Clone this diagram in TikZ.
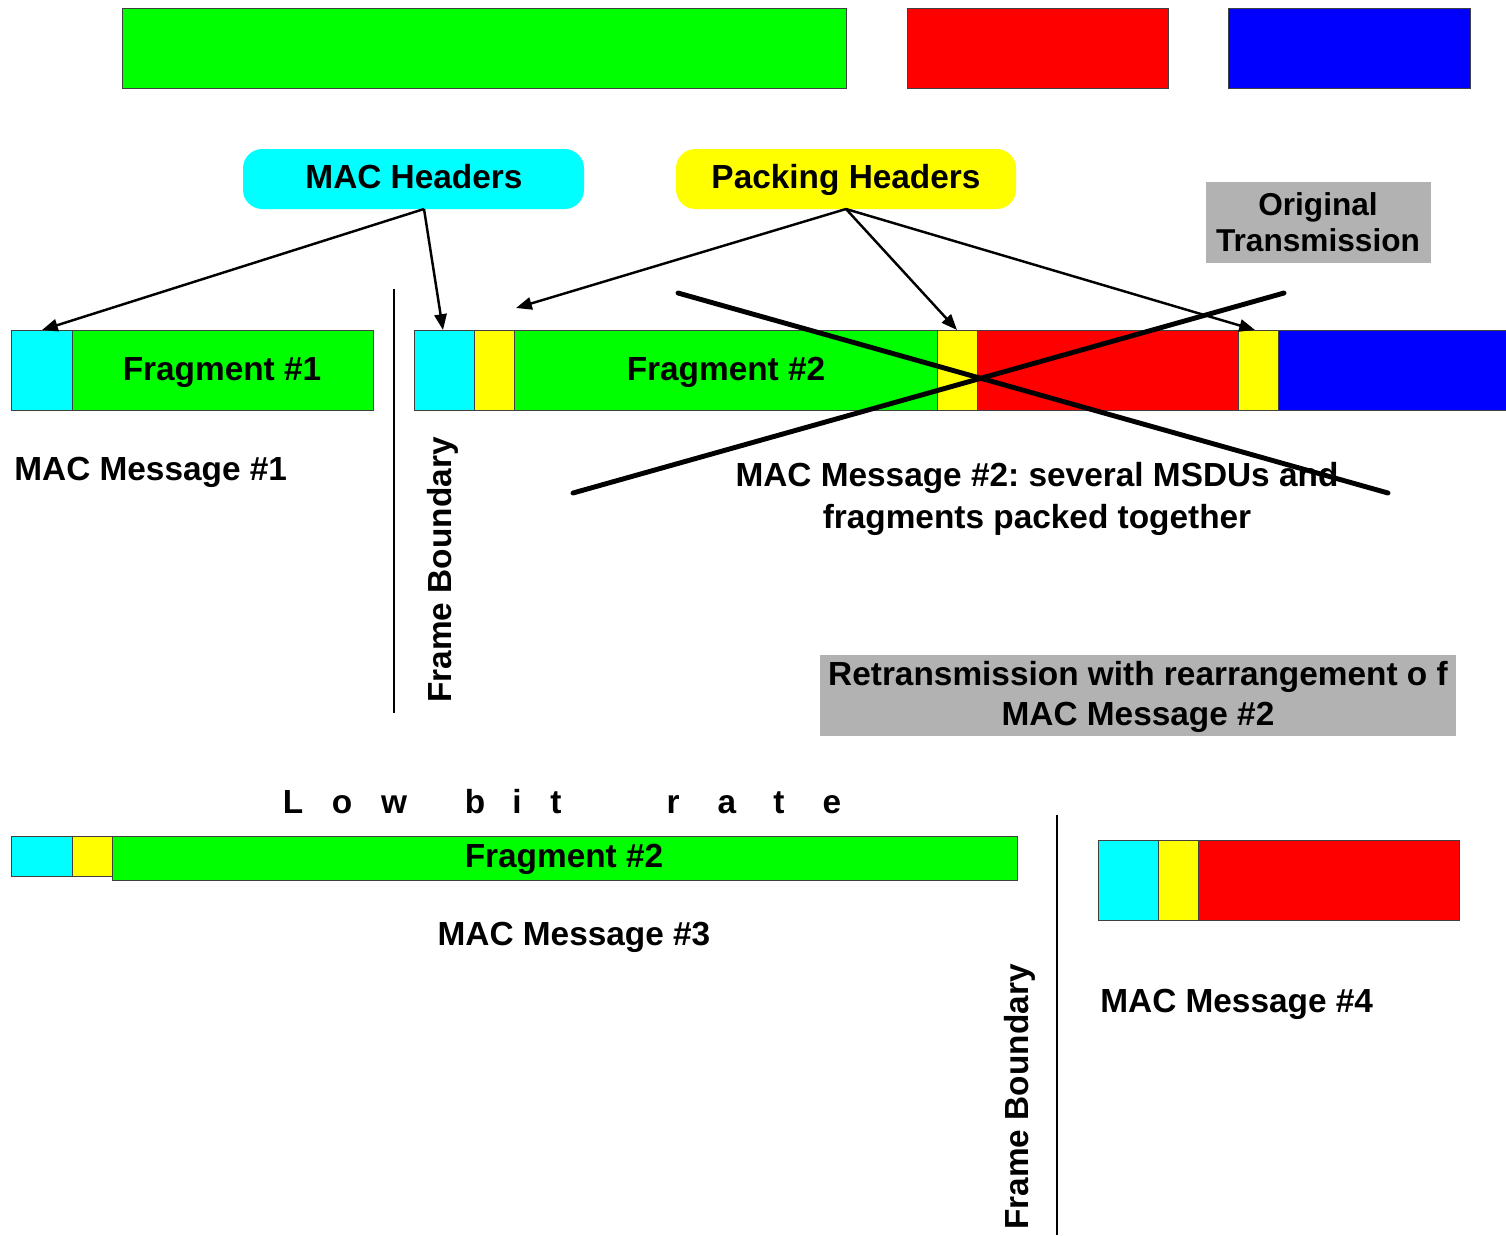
\documentclass[tikz,border=0pt]{standalone}
\usepackage{fontspec}
\setmainfont{Liberation Sans}
\usetikzlibrary{arrows.meta,fit}
\frenchspacing
\definecolor{cgreen}{HTML}{00FF00}
\definecolor{cred}{HTML}{FF0000}
\definecolor{cblue}{HTML}{0000FF}
\definecolor{ccyan}{HTML}{00FFFF}
\definecolor{cyellow}{HTML}{FFFF00}
\definecolor{cgray}{HTML}{B2B2B2}
\tikzset{
  cell/.style={draw=black!75, line width=0.5pt, inner sep=0pt},
  mtxt/.style={font=\fontsize{19}{23.5}\selectfont\bfseries\frenchspacing, inner sep=0pt, align=center},
  txt/.style={mtxt, text height=13.6pt, text depth=0pt},
  hdr/.style={rounded corners=11pt, inner sep=0pt},
  ptr/.style={line width=1.4pt, -{Triangle[length=9pt,width=7pt]}},
  cross/.style={line width=2.8pt, line cap=round},
  fb/.style={line width=1.4pt}
}
\begin{document}
\begin{tikzpicture}[x=0.02cm,y=-0.02cm]
\useasboundingbox (0,0) rectangle (1506,1235);
% top bars
\node (tg) [cell, fill=cgreen, fit={(122,8) (846,88)}] {};
\node (tr) [cell, fill=cred, fit={(907,8) (1168,88)}] {};
\node (tb) [cell, fill=cblue, fit={(1228,8) (1470,88)}] {};
% header boxes
\node (mh) [hdr, fill=ccyan, fit={(243,149) (584,209)}] {};
\node (mht) [txt] at (414,177) {MAC Headers};
\node (ph) [hdr, fill=cyellow, fit={(676,149) (1016,209)}] {};
\node (pht) [txt] at (846,177) {Packing Headers};
\node (ot) [fill=cgray, inner sep=0pt, fit={(1206,182) (1431,263)}] {};
\node (ott) [mtxt, font=\fontsize{18}{20.5}\selectfont\bfseries] at (1318,222) {Original\\Transmission};
% message 1
\node (m1c) [cell, fill=ccyan, fit={(11,330) (72,410)}] {};
\node (m1g) [cell, fill=cgreen, fit={(72,330) (373,410)}] {};
\node (m1gt) [txt] at (222,369) {Fragment \#1};
\node (m1l) [txt, anchor=west] at (14,469) {MAC Message \#1};
% message 2
\node (m2c) [cell, fill=ccyan, fit={(414,330) (474,410)}] {};
\node (m2y1) [cell, fill=cyellow, fit={(474,330) (514,410)}] {};
\node (m2g) [cell, fill=cgreen, fit={(514,330) (937,410)}] {};
\node (m2gt) [txt] at (726,369) {Fragment \#2};
\node (m2y2) [cell, fill=cyellow, fit={(937,330) (977,410)}] {};
\node (m2r) [cell, fill=cred, fit={(977,330) (1238,410)}] {};
\node (m2y3) [cell, fill=cyellow, fit={(1238,330) (1278,410)}] {};
\node (m2b) [cell, fill=cblue, fit={(1278,330) (1506,410)}] {};
\node (m2l) [mtxt] at (1037,499) {MAC Message \#2: several MSDUs and\\fragments packed together};
% frame boundary 1
\coordinate (fb1a) at (394,289);
\coordinate (fb1b) at (394,713);
\draw[fb] (fb1a) -- (fb1b);
\node (fb1t) [txt, rotate=90] at (440,570) {Frame Boundary};
% arrows
\coordinate (mhs) at (424,209);
\coordinate (phs) at (846,209);
\coordinate (t1) at (42,330);
\coordinate (t2) at (443,330);
\coordinate (t3) at (516,308);
\coordinate (t4) at (957,330);
\coordinate (t5) at (1255,330);
\draw[ptr] (mhs) -- (t1);
\draw[ptr] (mhs) -- (t2);
\draw[ptr] (phs) -- (t3);
\draw[ptr] (phs) -- (t4);
\draw[ptr] (phs) -- (t5);
% cross
\coordinate (c1a) at (678,293);
\coordinate (c1b) at (1388,493);
\coordinate (c2a) at (573,493);
\coordinate (c2b) at (1284,293);
\draw[cross] (c1a) -- (c1b);
\draw[cross] (c2a) -- (c2b);
% retransmission box
\node (rt) [fill=cgray, inner sep=0pt, fit={(820,655) (1456,736)}] {};
\node (rtt) [mtxt, font=\fontsize{19}{23}\selectfont\bfseries] at (1138,697) {Retransmission with rearrangement o f\\MAC Message \#2};
% low bit rate
\foreach \ch/\xx [count=\k] in {L/293,o/342,w/394,b/475,i/517,t/556,r/673,a/727,t/779,e/832}
  \node (lb\k) [txt, anchor=base] at (\xx,813) {\ch};
% message 3
\node (m3c) [cell, fill=ccyan, fit={(11,836) (72,876)}] {};
\node (m3y) [cell, fill=cyellow, fit={(72,836) (112,876)}] {};
\node (m3g) [cell, fill=cgreen, fit={(112,836) (1017,880)}] {};
\node (m3gt) [txt] at (564,856) {Fragment \#2};
\node (m3l) [txt] at (574,934) {MAC Message \#3};
% frame boundary 2
\coordinate (fb2a) at (1057,815);
\coordinate (fb2b) at (1057,1235);
\draw[fb] (fb2a) -- (fb2b);
\node (fb2t) [txt, rotate=90] at (1017,1097) {Frame Boundary};
% message 4
\node (m4c) [cell, fill=ccyan, fit={(1098,840) (1158,920)}] {};
\node (m4y) [cell, fill=cyellow, fit={(1158,840) (1198,920)}] {};
\node (m4r) [cell, fill=cred, fit={(1198,840) (1459,920)}] {};
\node (m4l) [txt, anchor=west] at (1100,1001) {MAC Message \#4};
\end{tikzpicture}
\end{document}
